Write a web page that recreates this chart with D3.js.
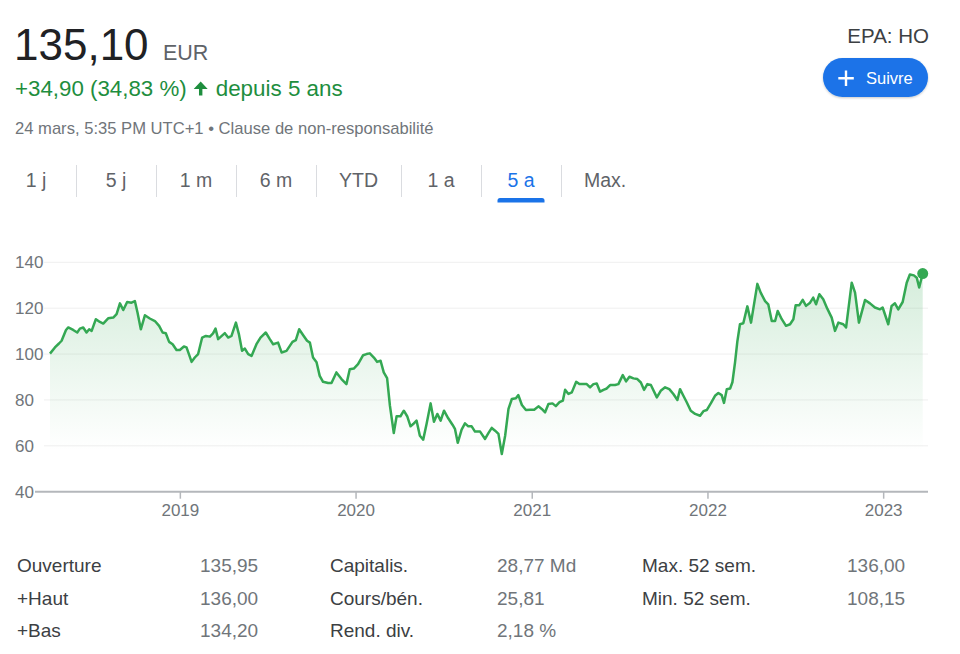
<!DOCTYPE html>
<html><head><meta charset="utf-8">
<script src="https://cdn.jsdelivr.net/npm/d3@7/dist/d3.min.js"></script>
<style>
html,body{margin:0;padding:0;background:#fff;}
svg{display:block;font-family:"Liberation Sans",Arial,sans-serif;}
</style></head>
<body>
<svg id="c" width="960" height="654"></svg>
<script>
// ---------- data ----------
const price = "135,10";
const currency = "EUR";
const changeText = "+34,90 (34,83 %)";
const periodText = "depuis 5 ans";
const dateLine = "24 mars, 5:35 PM UTC+1 • Clause de non-responsabilité";
const ticker = "EPA: HO";
const followLabel = "Suivre";
const tabLabels = ["1 j","5 j","1 m","6 m","YTD","1 a","5 a","Max."];
const activeTab = "5 a";

// time as decimal years, closing price in EUR
const times = [2018.261,2018.289,2018.312,2018.327,2018.352,2018.365,2018.393,2018.416,2018.431,2018.450,2018.469,2018.484,2018.498,2018.522,2018.545,2018.564,2018.592,2018.621,2018.640,2018.659,2018.678,2018.700,2018.725,2018.744,2018.759,2018.778,2018.801,2018.829,2018.858,2018.882,2018.902,2018.920,2018.939,2018.959,2018.981,2019.000,2019.023,2019.038,2019.067,2019.085,2019.104,2019.127,2019.148,2019.171,2019.189,2019.203,2019.218,2019.256,2019.275,2019.294,2019.319,2019.336,2019.354,2019.370,2019.389,2019.408,2019.436,2019.459,2019.489,2019.512,2019.531,2019.559,2019.579,2019.607,2019.641,2019.660,2019.679,2019.705,2019.724,2019.740,2019.758,2019.778,2019.796,2019.815,2019.844,2019.863,2019.891,2019.920,2019.948,2019.967,2019.990,2020.014,2020.043,2020.062,2020.081,2020.104,2020.122,2020.142,2020.160,2020.179,2020.195,2020.217,2020.233,2020.255,2020.274,2020.293,2020.312,2020.327,2020.346,2020.365,2020.384,2020.403,2020.426,2020.445,2020.464,2020.483,2020.502,2020.526,2020.551,2020.564,2020.580,2020.602,2020.621,2020.640,2020.659,2020.678,2020.707,2020.735,2020.754,2020.773,2020.792,2020.811,2020.830,2020.849,2020.868,2020.887,2020.910,2020.924,2020.944,2020.967,2020.991,2021.014,2021.038,2021.057,2021.076,2021.095,2021.118,2021.137,2021.158,2021.177,2021.190,2021.209,2021.228,2021.253,2021.271,2021.294,2021.313,2021.332,2021.351,2021.370,2021.389,2021.408,2021.427,2021.446,2021.474,2021.493,2021.518,2021.537,2021.556,2021.579,2021.601,2021.621,2021.639,2021.658,2021.678,2021.712,2021.734,2021.759,2021.783,2021.806,2021.829,2021.844,2021.863,2021.882,2021.905,2021.930,2021.958,2021.977,2021.996,2022.019,2022.043,2022.062,2022.081,2022.094,2022.110,2022.129,2022.142,2022.157,2022.170,2022.185,2022.204,2022.227,2022.248,2022.284,2022.303,2022.328,2022.346,2022.366,2022.385,2022.400,2022.423,2022.447,2022.470,2022.489,2022.502,2022.523,2022.542,2022.561,2022.584,2022.602,2022.618,2022.637,2022.659,2022.682,2022.707,2022.726,2022.745,2022.773,2022.789,2022.821,2022.840,2022.862,2022.897,2022.925,2022.953,2022.982,2022.997,2023.029,2023.048,2023.067,2023.086,2023.111,2023.134,2023.152,2023.175,2023.191,2023.205,2023.225];
const prices = [100.2,102.9,104.6,105.8,110.5,111.6,110.5,109.4,111.1,111.6,109.4,110.8,110.1,115.2,114.0,113.3,115.6,115.9,117.4,122.1,119.2,122.7,122.4,123.1,118.1,110.8,116.9,115.5,114.4,112.3,109.4,109.1,105.3,104.3,101.8,101.8,103.3,102.9,96.6,98.5,100.0,107.2,107.9,107.6,109.0,111.1,106.5,109.1,107.2,107.9,113.7,108.7,101.4,102.4,100.0,99.2,104.3,107.2,109.4,106.5,104.3,105.0,100.7,101.4,105.3,106.1,110.8,107.9,105.8,105.0,98.5,96.4,90.5,87.9,87.4,87.4,92.0,89.1,86.9,93.4,93.7,95.6,99.5,100.0,100.3,98.5,96.6,97.1,92.0,89.5,77.5,65.6,72.9,72.9,75.3,72.9,68.5,69.5,71.0,64.4,62.7,69.5,78.5,70.5,73.9,71.0,75.3,72.0,69.1,67.4,61.3,67.1,69.8,68.5,68.5,66.2,66.2,63.0,65.5,67.8,66.6,65.2,56.4,64.4,76.1,80.4,80.7,82.1,77.8,75.6,75.7,75.7,77.2,76.1,74.6,78.2,78.5,77.3,79.0,79.7,84.4,82.6,83.3,87.9,86.9,86.9,86.9,85.5,86.9,87.2,83.6,84.4,85.0,86.5,86.5,86.9,90.8,88.1,90.1,89.4,89.1,87.6,84.4,86.9,86.5,81.1,84.0,85.5,84.7,82.6,80.0,84.7,81.8,79.0,75.3,73.9,73.1,75.1,75.6,78.5,81.8,83.0,82.1,78.7,84.7,85.0,87.7,96.4,105.4,113.0,113.4,120.8,113.7,130.6,126.8,123.1,121.7,114.4,114.4,118.8,115.2,112.3,113.0,115.2,121.3,121.3,123.6,121.0,122.4,124.6,121.7,126.1,123.9,119.8,115.9,110.1,113.7,113.0,111.6,131.1,126.8,113.7,123.6,122.1,120.3,119.5,120.3,113.0,121.0,122.1,119.5,122.7,131.1,134.7,134.3,133.3,129.0,135.1];

const yTicks = [40,60,80,100,120,140];
const xTickYears = [2019,2020,2021,2022,2023];

const statLabels = [["Ouverture","+Haut","+Bas"],["Capitalis.","Cours/bén.","Rend. div."],["Max. 52 sem.","Min. 52 sem."]];
const statValues = [["135,95","136,00","134,20"],["28,77 Md","25,81","2,18 %"],["136,00","108,15"]];

// ---------- helpers ----------
function toDate(t){
  const y = Math.floor(t);
  const s = Date.UTC(y,0,1), e = Date.UTC(y+1,0,1);
  return new Date(s + (t-y)*(e-s));
}
const data = times.map((t,i)=>({date:toDate(t), v:prices[i]}));

const GREEN = "#1e8e3e";
const LINE = "#34a853";
const BLUE = "#1a73e8";
const GREY = "#70757a";

const svg = d3.select("#c");

// ---------- header ----------
svg.append("text").attr("x",14).attr("y",60).attr("font-size",44).attr("fill","#202124").text(price);
svg.append("text").attr("x",163).attr("y",60).attr("font-size",21.5).attr("fill","#5f6368").text(currency);

const chg = svg.append("text").attr("x",15).attr("y",96).attr("font-size",22.3).attr("fill",GREEN).text(changeText);
const chgW = chg.node().getComputedTextLength();
const ax = 15 + chgW + 7;
// up arrow
svg.append("path")
  .attr("d",`M${ax+7},81.5 L${ax},89 L${ax+5.3},89 L${ax+5.3},95.5 L${ax+8.7},95.5 L${ax+8.7},89 L${ax+14},89 Z`)
  .attr("fill",GREEN);
svg.append("text").attr("x",ax+22).attr("y",96).attr("font-size",22.4).attr("fill",GREEN).text(periodText);

svg.append("text").attr("x",15).attr("y",134).attr("font-size",16.6).attr("fill",GREY).text(dateLine);

svg.append("text").attr("x",929).attr("y",43).attr("text-anchor","end").attr("font-size",20.5).attr("fill","#3c4043").text(ticker);

// follow button
const defs = svg.append("defs");
const sh = defs.append("filter").attr("id","sh").attr("x","-20%").attr("y","-30%").attr("width","140%").attr("height","170%");
sh.append("feDropShadow").attr("dx",0).attr("dy",1).attr("stdDeviation",1.2).attr("flood-color","#000").attr("flood-opacity",0.22);
svg.append("rect").attr("x",823).attr("y",58).attr("width",105).attr("height",39).attr("rx",19.5)
  .attr("fill",BLUE).attr("filter","url(#sh)");
svg.append("path").attr("d","M846,70.5 V86 M838.3,78.2 H853.8").attr("stroke","#fff").attr("stroke-width",2.4);
svg.append("text").attr("x",866).attr("y",83.5).attr("font-size",16.5).attr("fill","#fff").text(followLabel);

// ---------- tabs ----------
const tabG = svg.append("g");
let tx = -4;
tabLabels.forEach((lab,i)=>{
  const t = tabG.append("text").attr("y",187).attr("font-size",19.5)
    .attr("fill", lab===activeTab ? BLUE : "#5f6368").attr("text-anchor","middle").text(lab);
  const w = t.node().getComputedTextLength();
  const tw = Math.max(80, w+46);
  const cx = tx + tw/2;
  t.attr("x",cx);
  if(lab===activeTab){
    tabG.append("path").attr("d",`M${cx-23.5},202.5 V200.5 Q${cx-23.5},198 ${cx-21},198 H${cx+21} Q${cx+23.5},198 ${cx+23.5},200.5 V202.5 Z`).attr("fill",BLUE);
  }
  tx += tw;
  if(i < tabLabels.length-1){
    tabG.append("line").attr("x1",tx+0.5).attr("x2",tx+0.5).attr("y1",165).attr("y2",197).attr("stroke","#dadce0").attr("stroke-width",1);
  }
});

// ---------- chart ----------
const x = d3.scaleUtc().domain([data[0].date, data[data.length-1].date]).range([50, 922.7]);
const y = d3.scaleLinear().domain([40,140]).range([491.7, 262.3]);

// gridlines
svg.append("g").selectAll("line").data(yTicks.filter(d=>d>40)).join("line")
  .attr("x1",44).attr("x2",928).attr("y1",d=>y(d)).attr("y2",d=>y(d))
  .attr("stroke","#efefef").attr("stroke-width",1);

// y labels
svg.append("g").selectAll("text").data(yTicks).join("text")
  .attr("x",15).attr("y",d=>y(d)).attr("dy","0.36em").attr("font-size",17).attr("fill",GREY)
  .text(d=>d);

// gradient area
const grad = defs.append("linearGradient").attr("id","ag").attr("gradientUnits","userSpaceOnUse")
  .attr("x1",0).attr("x2",0).attr("y1",y(140)).attr("y2",y(58));
grad.append("stop").attr("offset",0).attr("stop-color",LINE).attr("stop-opacity",0.22);
grad.append("stop").attr("offset",1).attr("stop-color",LINE).attr("stop-opacity",0);

const area = d3.area().x(d=>x(d.date)).y0(y(40)).y1(d=>y(d.v));
svg.append("path").datum(data).attr("d",area).attr("fill","url(#ag)");

// x axis
const xAxis = d3.axisBottom(x).tickValues(xTickYears.map(yr=>new Date(Date.UTC(yr,0,1))))
  .tickFormat(d3.utcFormat("%Y")).tickSize(7).tickSizeOuter(0);
const gx = svg.append("g").attr("transform",`translate(0,${y(40)})`).call(xAxis);
gx.select(".domain").remove();
gx.selectAll(".tick line").attr("stroke","#b4b7bb").attr("stroke-width",1.5);
gx.selectAll(".tick text").attr("font-size",17).attr("fill",GREY).attr("font-family","'Liberation Sans',Arial,sans-serif").attr("dy","0.87em");
svg.append("line").attr("x1",35).attr("x2",928).attr("y1",y(40)).attr("y2",y(40))
  .attr("stroke","#b4b7bb").attr("stroke-width",2);

// line
const line = d3.line().x(d=>x(d.date)).y(d=>y(d.v));
svg.append("path").datum(data).attr("d",line).attr("fill","none")
  .attr("stroke",LINE).attr("stroke-width",2.5).attr("stroke-linejoin","round");

// end dot
const last = data[data.length-1];
svg.append("circle").attr("cx",x(last.date)).attr("cy",y(last.v)).attr("r",5.5).attr("fill",LINE);

// ---------- stats ----------
const colLabelX = [17,330,642];
const colValueX = [200,497,847];
const rowY = [572,605,637];
statLabels.forEach((col,ci)=>{
  col.forEach((lab,ri)=>{
    svg.append("text").attr("x",colLabelX[ci]).attr("y",rowY[ri]).attr("font-size",19).attr("fill","#3c4043").text(lab);
    svg.append("text").attr("x",colValueX[ci]).attr("y",rowY[ri]).attr("font-size",19).attr("fill",GREY).text(statValues[ci][ri]);
  });
});
</script>
</body></html>
